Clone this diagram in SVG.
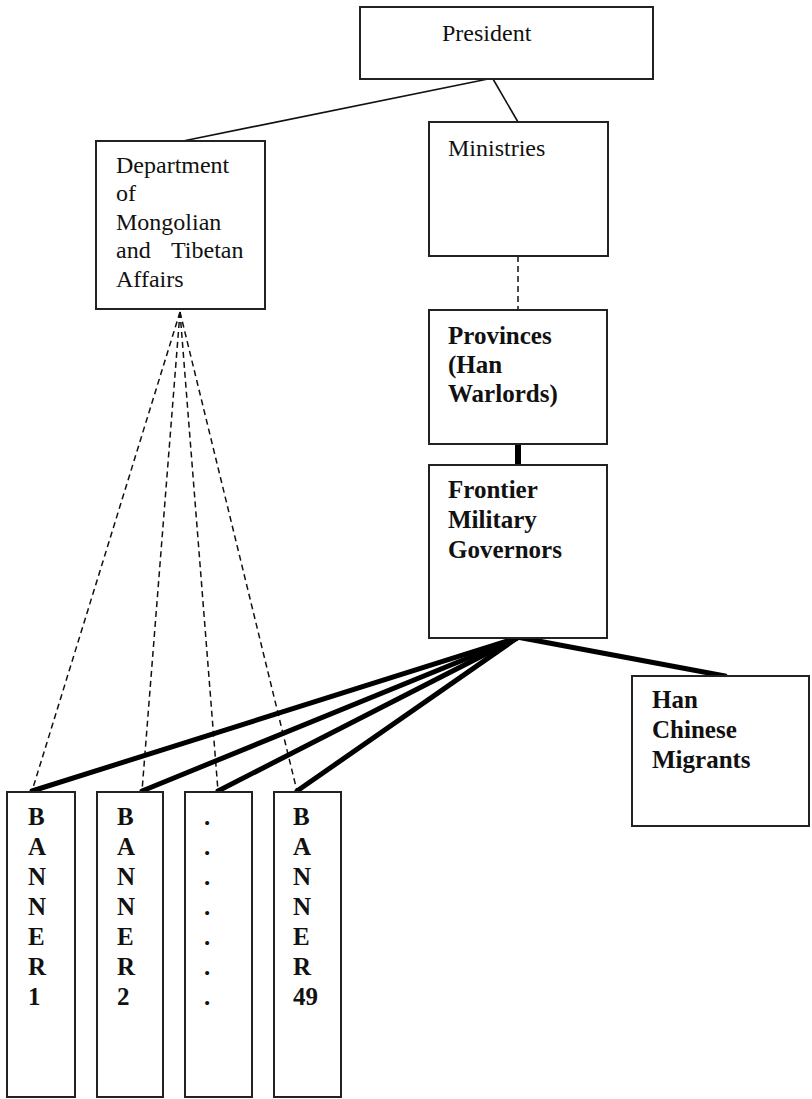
<svg xmlns="http://www.w3.org/2000/svg" width="812" height="1099" viewBox="0 0 812 1099">
<style>
.box{fill:#fff;stroke:#222;stroke-width:2}
.t{font-family:"Liberation Serif","Times New Roman",serif;font-size:24px;fill:#111}
.b{font-family:"Liberation Serif","Times New Roman",serif;font-size:25px;font-weight:bold;fill:#111}
.thin{stroke:#111;stroke-width:1.6;fill:none}
.dash{stroke:#111;stroke-width:1.5;stroke-dasharray:6 4;fill:none}
.thick{stroke:#000;stroke-width:5;fill:none;stroke-linecap:round}
</style>
<rect width="812" height="1099" fill="#fff"/>
<g id="connectors">
<line class="thin" x1="488" y1="79" x2="183" y2="141"/>
<line class="thin" x1="493" y1="79" x2="518" y2="122"/>
<line class="dash" x1="518" y1="256" x2="518" y2="310"/>
<line x1="518" y1="444" x2="518" y2="465" stroke="#000" stroke-width="6"/>
<line class="dash" x1="180" y1="312" x2="32" y2="791"/>
<line class="dash" x1="180" y1="312" x2="142" y2="791"/>
<line class="dash" x1="180" y1="312" x2="218" y2="791"/>
<line class="dash" x1="180" y1="312" x2="297" y2="791"/>
<line class="thick" x1="517" y1="638" x2="32" y2="791"/>
<line class="thick" x1="517" y1="638" x2="142" y2="791"/>
<line class="thick" x1="517" y1="638" x2="218" y2="791"/>
<line class="thick" x1="517" y1="638" x2="297" y2="791"/>
<line class="thick" x1="517" y1="637" x2="725" y2="676"/>
</g>
<g id="president">
<rect class="box" x="360" y="7" width="293" height="72"/>
<text class="t" x="442" y="41" font-size="27">President</text>
</g>
<g id="department">
<rect class="box" x="96" y="141" width="169" height="168"/>
<text class="t" x="116" y="173">Department</text>
<text class="t" x="116" y="201">of</text>
<text class="t" x="116" y="230">Mongolian</text>
<text class="t" x="116" y="258">and<tspan x="171">Tibetan</tspan></text>
<text class="t" x="116" y="287">Affairs</text>
</g>
<g id="ministries">
<rect class="box" x="429" y="122" width="179" height="134"/>
<text class="t" x="448" y="156">Ministries</text>
</g>
<g id="provinces">
<rect class="box" x="429" y="310" width="178" height="134"/>
<text class="b" x="448" y="344">Provinces</text>
<text class="b" x="448" y="373">(Han</text>
<text class="b" x="448" y="402">Warlords)</text>
</g>
<g id="frontier">
<rect class="box" x="429" y="465" width="178" height="173"/>
<text class="b" x="448" y="498">Frontier</text>
<text class="b" x="448" y="528">Military</text>
<text class="b" x="448" y="558">Governors</text>
</g>
<g id="han">
<rect class="box" x="632" y="676" width="177" height="150"/>
<text class="b" x="652" y="708">Han</text>
<text class="b" x="652" y="738">Chinese</text>
<text class="b" x="652" y="768">Migrants</text>
</g>
<g id="banner1">
<rect class="box" x="7" y="792" width="68" height="305"/>
<text class="b" x="28" y="825">B</text><text class="b" x="28" y="855">A</text><text class="b" x="28" y="885">N</text><text class="b" x="28" y="915">N</text><text class="b" x="28" y="945">E</text><text class="b" x="28" y="975">R</text><text class="b" x="28" y="1005">1</text>
</g>
<g id="banner2">
<rect class="box" x="97" y="792" width="66" height="305"/>
<text class="b" x="117" y="825">B</text><text class="b" x="117" y="855">A</text><text class="b" x="117" y="885">N</text><text class="b" x="117" y="915">N</text><text class="b" x="117" y="945">E</text><text class="b" x="117" y="975">R</text><text class="b" x="117" y="1005">2</text>
</g>
<g id="banner3">
<rect class="box" x="185" y="792" width="67" height="305"/>
<text class="b" x="204" y="825">.</text><text class="b" x="204" y="855">.</text><text class="b" x="204" y="885">.</text><text class="b" x="204" y="915">.</text><text class="b" x="204" y="945">.</text><text class="b" x="204" y="975">.</text><text class="b" x="204" y="1005">.</text>
</g>
<g id="banner49">
<rect class="box" x="274" y="792" width="67" height="305"/>
<text class="b" x="293" y="825">B</text><text class="b" x="293" y="855">A</text><text class="b" x="293" y="885">N</text><text class="b" x="293" y="915">N</text><text class="b" x="293" y="945">E</text><text class="b" x="293" y="975">R</text><text class="b" x="293" y="1005">49</text>
</g>
</svg>
